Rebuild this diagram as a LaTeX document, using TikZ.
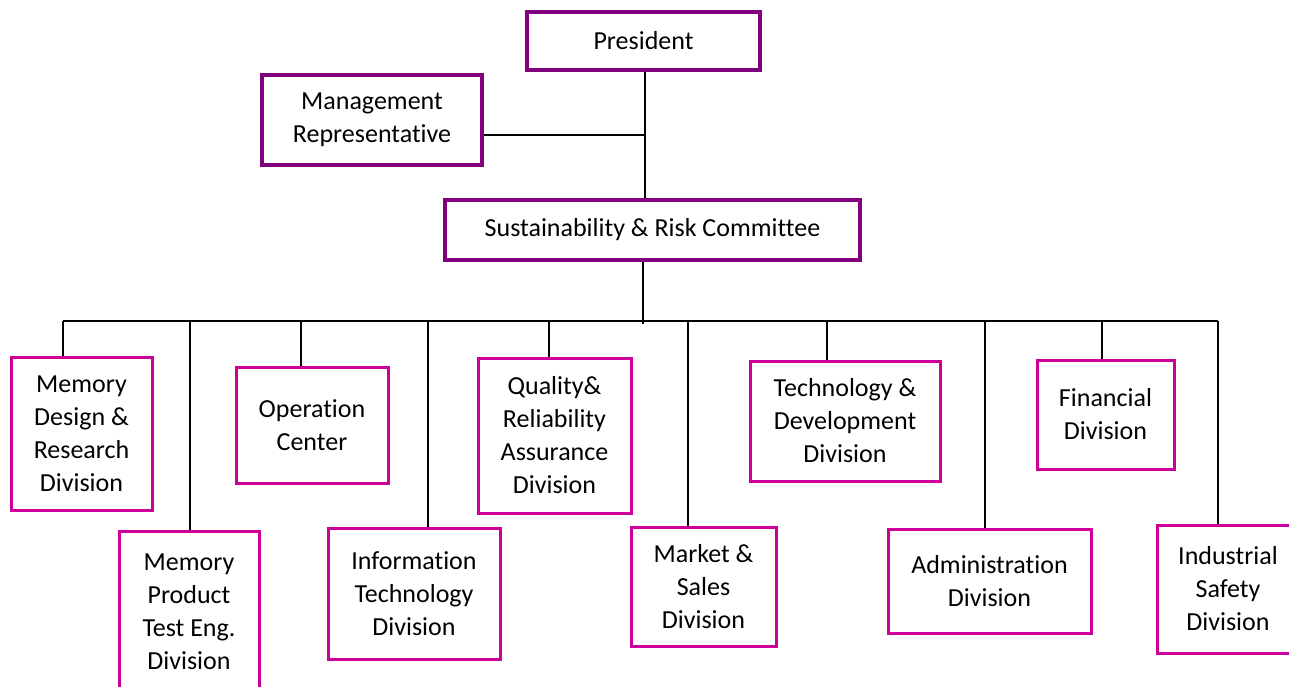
\documentclass[tikz,border=0pt]{standalone}
\usepackage{fontspec}
\setmainfont{Carlito}[Ligatures={NoCommon,NoContextual}]
\definecolor{TopClr}{RGB}{128,0,128}
\definecolor{DivClr}{RGB}{204,0,153}

\begin{document}
\begin{tikzpicture}[x=0.5pt,y=-0.5pt,
  box/.style={draw,align=center,inner sep=0pt,
    font=\fontsize{13}{16.5}\selectfont},
  topbox/.style={box,draw=TopClr,line width=2.2pt},
  divbox/.style={box,draw=DivClr,line width=1.5pt},
  link/.style={line width=1pt,color=black}]
\useasboundingbox (0,0) rectangle (1289,686);

% top of the chart
\node[topbox,minimum width=116.5pt,minimum height=29pt] (pres) at (643.5,41) {President};
\node[topbox,minimum width=110pt,minimum height=45pt] (mrep) at (372,120) {Management\\Representative};
\node[topbox,minimum width=207.5pt,minimum height=30pt] (src) at (652.5,230) {Sustainability \& Risk Commit{}tee};

% divisions
\node[divbox,minimum width=70.5pt,minimum height=76.5pt] (mdr) at (81.5,433.5) {Memory\\Design \&\\Research\\Division};
\node[divbox,minimum width=70pt,minimum height=81pt] (mpt) at (189,612) {Memory\\Product\\Test Eng.\\Division};
\node[divbox,minimum width=76pt,minimum height=58pt] (opc) at (312,425) {Operation\\Center};
\node[divbox,minimum width=86pt,minimum height=65.5pt] (itd) at (414,593.5) {Information\\Technology\\Division};
\node[divbox,minimum width=76.5pt,minimum height=77.5pt] (qra) at (554.5,435.5) {Quality\&\\Reliability\\Assurance\\Division};
\node[divbox,minimum width=72.5pt,minimum height=59.5pt] (msd) at (703.5,586.5) {Market \&\\Sales\\Division};
\node[divbox,minimum width=95pt,minimum height=60pt] (tdd) at (845,421) {Technology \&\\Development\\Division};
\node[divbox,minimum width=101.5pt,minimum height=52pt] (adm) at (989.5,581) {Administration\\Division};
\node[divbox,minimum width=68.5pt,minimum height=54.5pt] (fin) at (1105.5,414.5) {Financial\\Division};
\node[divbox,minimum width=71pt,minimum height=64pt] (isd) at (1228,589) {Industrial\\Safety\\Division};

% connectors
\coordinate (trunk) at (645,135);
\draw[link] (pres.south -| trunk) -- (src.north -| trunk);
\draw[link] (mrep.east |- trunk) -- (trunk);

\coordinate (busL) at (63,321);
\coordinate (busR) at (1218,321);
\draw[link] (busL) -- (busR);
\draw[link] (src.south -| 643,0) -- (643,324);

\foreach \n/\x in {mdr/63,mpt/190,opc/301,itd/428,qra/549,msd/688,tdd/827,adm/985,fin/1102,isd/1218}{
  \coordinate (t\n) at (\x,321);
  \draw[link] (t\n) -- (t\n |- \n.north);
}
\end{tikzpicture}
\end{document}
